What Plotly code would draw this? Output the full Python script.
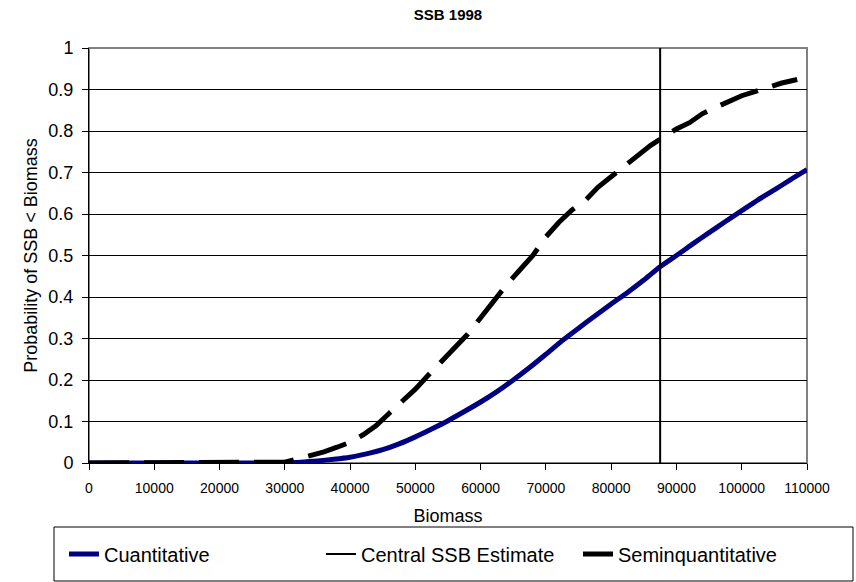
import plotly.graph_objects as go

# Biomass grid (tonnes) for the quantitative assessment curve
biomass_q = [0, 5000, 10000, 15000, 20000, 25000, 30000, 32500, 35000, 37500,
             40000, 42500, 45000, 47500, 50000, 52500, 55000, 57500, 60000,
             62500, 65000, 67500, 70000, 72500, 75000, 77500, 80000, 82500,
             85000, 87500, 90000, 92500, 95000, 97500, 100000, 102500, 105000,
             107500, 110000]
prob_q = [0, 0, 0, 0, 0, 0, 0.0, 0.002, 0.005, 0.009,
          0.014, 0.022, 0.032, 0.046, 0.063, 0.082, 0.102, 0.124, 0.147,
          0.172, 0.2, 0.23, 0.262, 0.295, 0.325, 0.354, 0.383, 0.411,
          0.441, 0.473, 0.5, 0.528, 0.555, 0.582, 0.608, 0.634, 0.658,
          0.683, 0.707]

# Semi-quantitative assessment curve
biomass_sq = [0, 5000, 10000, 15000, 20000, 25000, 28000, 30000, 32000, 34000,
              36000, 38000, 40000, 42000, 44000, 46000, 48000, 50000, 52000,
              54000, 56000, 58000, 60000, 62000, 64000, 66000, 68000, 70000,
              72000, 74000, 76000, 78000, 80000, 82000, 84000, 86000, 88000,
              90000, 92000, 94000, 96000, 98000, 100000, 102000, 104000,
              106000, 108500]
prob_sq = [0, 0, 0, 0, 0, 0, 0, 0.002, 0.01, 0.018,
           0.027, 0.038, 0.05, 0.068, 0.09, 0.12, 0.148, 0.178, 0.212,
           0.245, 0.278, 0.31, 0.35, 0.39, 0.43, 0.465, 0.5, 0.545,
           0.58, 0.61, 0.632, 0.665, 0.69, 0.715, 0.738, 0.765, 0.785,
           0.805, 0.82, 0.842, 0.857, 0.872, 0.885, 0.895, 0.905,
           0.915, 0.924]

# Central SSB estimate
central_ssb = 87500

x_ticks = [0, 10000, 20000, 30000, 40000, 50000, 60000, 70000, 80000,
           90000, 100000, 110000]
y_ticks = [0, 0.1, 0.2, 0.3, 0.4, 0.5, 0.6, 0.7, 0.8, 0.9, 1]
y_tick_text = ["0", "0.1", "0.2", "0.3", "0.4", "0.5", "0.6", "0.7", "0.8",
               "0.9", "1"]

FONT = "Liberation Sans, Arial, sans-serif"

fig = go.Figure()
fig.add_trace(go.Scatter(
    x=biomass_q, y=prob_q, mode="lines", name="Cuantitative",
    line=dict(color="#000080", width=5, shape="spline", smoothing=0.6),
))
fig.add_trace(go.Scatter(
    x=[central_ssb, central_ssb], y=[0, 1], mode="lines",
    name="Central SSB Estimate",
    line=dict(color="black", width=2),
))
fig.add_trace(go.Scatter(
    x=biomass_sq, y=prob_sq, mode="lines", name="Seminquantitative",
    line=dict(color="black", width=5, dash="40px,15px"),
))

# plot area geometry in pixels
W, H = 856, 582
L, R, T, B = 89, 49, 48, 119
pw = W - L - R
ph = H - T - B


def px_x(p):
    return (p - L) / pw


def px_y(p):
    return (H - B - p) / ph


fig.update_layout(
    width=W, height=H,
    margin=dict(l=L, r=R, t=T, b=B, autoexpand=False),
    paper_bgcolor="white", plot_bgcolor="white",
    font=dict(family=FONT, color="black"),
    title=dict(text="<b>SSB 1998</b>", x=0.5, xref="paper",
               y=1 - 15 / H, yref="container", yanchor="middle",
               xanchor="center", font=dict(size=15, family=FONT)),
    xaxis=dict(
        range=[0, 110000], tickvals=x_ticks, tickformat="d",
        ticks="outside", ticklen=6, tickcolor="black",
        ticklabelstandoff=6,
        showline=True, linecolor="black", linewidth=1,
        showgrid=False, zeroline=False,
        tickfont=dict(size=14),
        title=dict(text="Biomass", font=dict(size=18), standoff=14),
    ),
    yaxis=dict(
        range=[0, 1], tickvals=y_ticks, ticktext=y_tick_text,
        ticks="outside", ticklen=6, tickcolor="black",
        ticklabelstandoff=5,
        showline=True, linecolor="black", linewidth=1,
        showgrid=True, gridcolor="black", gridwidth=1, zeroline=False,
        tickfont=dict(size=18),
        title=dict(text="Probability of SSB < Biomass", font=dict(size=18),
                   standoff=6),
    ),
    showlegend=True,
    legend=dict(
        orientation="h", x=px_x(64), xanchor="left",
        y=px_y(554), yanchor="middle",
        font=dict(size=20, family=FONT),
        entrywidth=212, entrywidthmode="pixels",
        bgcolor="rgba(0,0,0,0)", borderwidth=0,
    ),
    shapes=[
        # grey frame around the plotting area
        dict(type="rect", xref="x domain", yref="y domain",
             x0=0, x1=1, y0=0, y1=1, line=dict(color="#808080", width=2),
             layer="below"),
        # legend frame
        dict(type="rect", xref="paper", yref="paper",
             x0=px_x(54), x1=px_x(853), y0=px_y(581), y1=px_y(527),
             line=dict(color="black", width=1)),
    ],
)

fig.write_html("out.html")
